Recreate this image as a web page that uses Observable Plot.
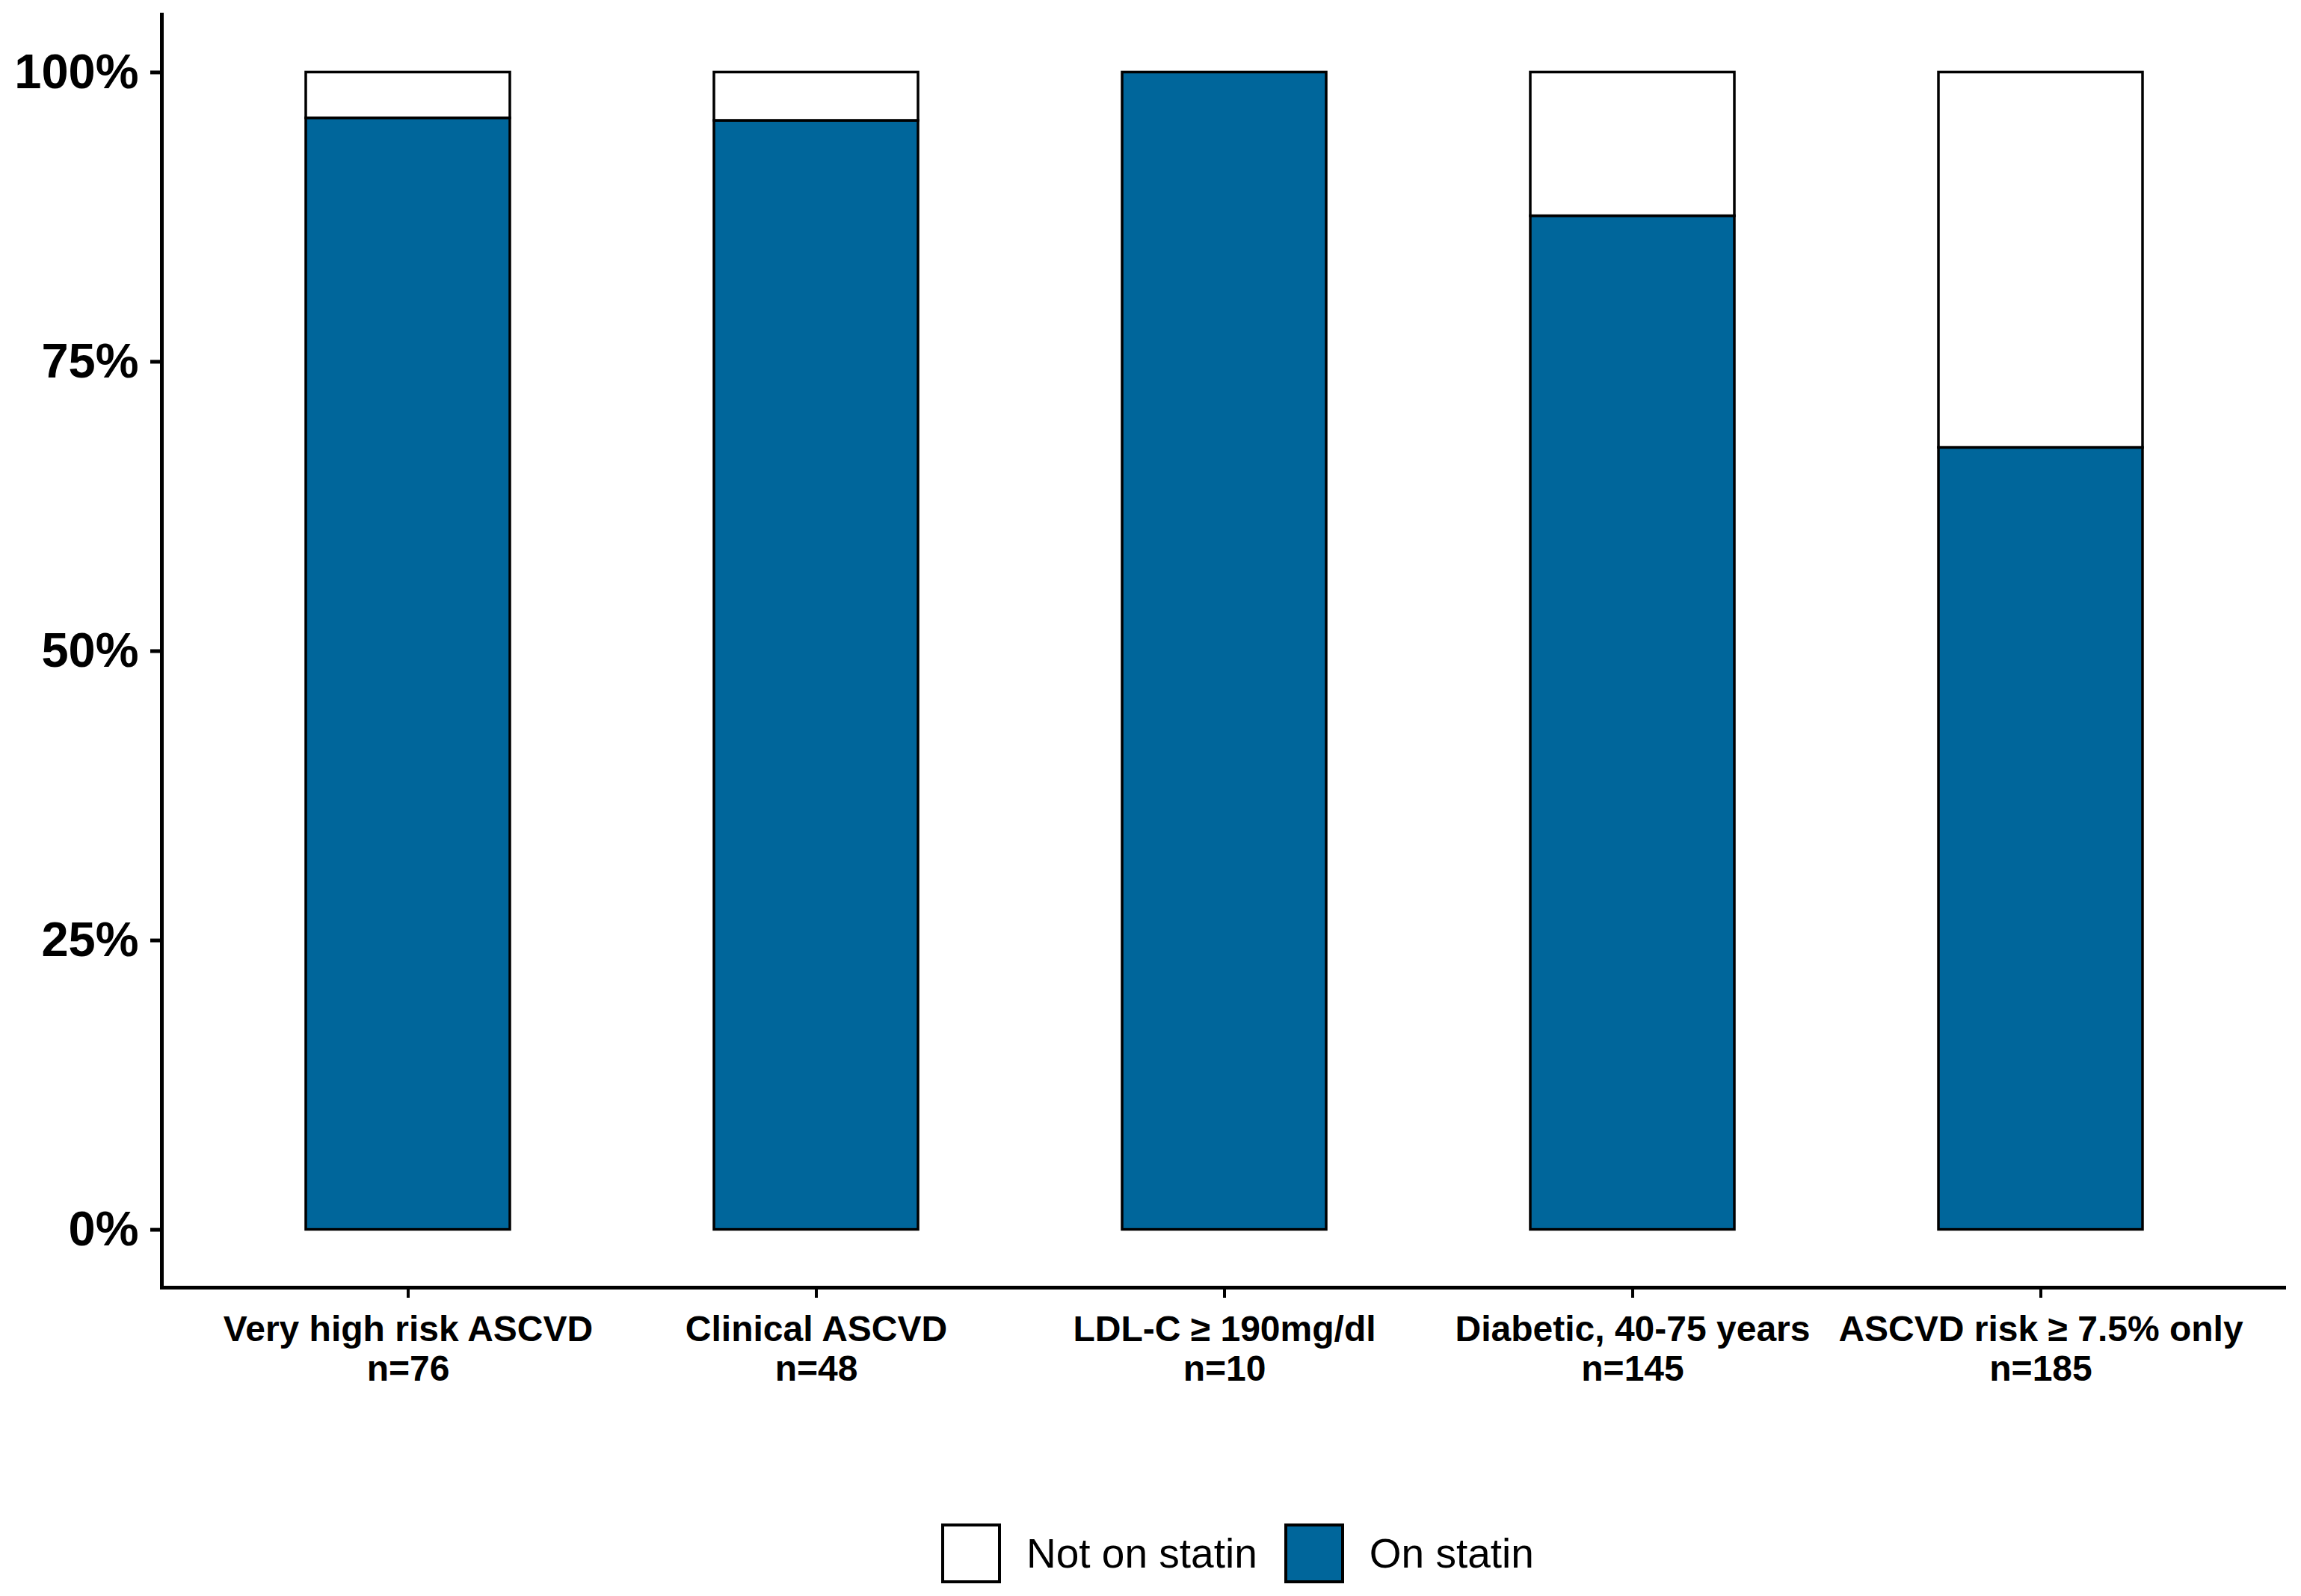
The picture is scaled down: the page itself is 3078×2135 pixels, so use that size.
<!DOCTYPE html>
<html>
<head>
<meta charset="utf-8">
<script src="https://cdn.jsdelivr.net/npm/d3@7"></script>
<script src="https://cdn.jsdelivr.net/npm/@observablehq/plot@0.6"></script>
<style>
  html, body { margin: 0; padding: 0; background: #ffffff; }
  body { font-family: "Liberation Sans", Arial, Helvetica, sans-serif; width: 3078px; }
  #legend { display: flex; justify-content: flex-start; align-items: center; padding-left: 1259px; }
  .sw { width: 80px; height: 80px; box-sizing: border-box; border: 4px solid #000; }
  .lt { font-size: 55px; color: #000; margin-left: 34px; margin-right: 36px; line-height: 80px; }
</style>
</head>
<body>
<div id="chart"></div>
<div id="legend"></div>
<script>
// ---- data ----
const categories = ["Very high risk ASCVD", "Clinical ASCVD", "LDL-C \u2265 190mg/dl", "Diabetic, 40-75 years", "ASCVD risk \u2265 7.5% only"];
const sampleSizes = [76, 48, 10, 145, 185];
const onStatinPct = [96.05, 95.83, 100, 87.59, 67.57];
const notOnStatinPct = [3.95, 4.17, 0, 12.41, 32.43];
const statusLabels = ["Not on statin", "On statin"];
const statusColors = ["#ffffff", "#00669b"];
const yTicks = [0, 25, 50, 75, 100];

// ---- table ----
const xLabels = categories.map((c, i) => `${c}\nn=${sampleSizes[i]}`);
const rows = [];
categories.forEach((c, i) => {
  rows.push({label: xLabels[i], status: "On statin", value: onStatinPct[i]});
  rows.push({label: xLabels[i], status: "Not on statin", value: notOnStatinPct[i]});
});

const W = 3078, H = 1950;
const chart = Plot.plot({
  width: W,
  height: H,
  marginLeft: 216,
  marginRight: 20,
  marginTop: 19,
  marginBottom: H - 1722,
  style: {fontFamily: "'Liberation Sans', Arial, sans-serif", background: "#ffffff", color: "#000"},
  x: {domain: xLabels, paddingInner: 0.5, paddingOuter: 0.35, align: 0.5, label: null},
  y: {domain: [-5, 105], label: null},
  color: {domain: statusLabels, range: statusColors},
  marks: [
    Plot.barY(rows, {x: "label", y: "value", fill: "status", z: "status", order: ["On statin", "Not on statin"], stroke: "#000", strokeWidth: 3.5}),
    Plot.ruleY([-5], {stroke: "#000", strokeWidth: 5}),
    Plot.frame({anchor: "left", stroke: "#000", strokeWidth: 5}),
    Plot.axisY({ticks: yTicks, tickFormat: d => d + "%", tickSize: 15, tickPadding: 16, fontSize: 65, fontWeight: "bold", strokeWidth: 5, label: null}),
    Plot.axisX({tickSize: 14, tickPadding: 20, fontSize: 48, fontWeight: "bold", lineHeight: 1.1, strokeWidth: 4, label: null})
  ]
});
document.getElementById("chart").appendChild(chart);

// ---- legend ----
const legend = document.getElementById("legend");
legend.style.marginTop = (2038 - H) + "px";
statusLabels.forEach((s, i) => {
  const sw = document.createElement("div");
  sw.className = "sw";
  sw.style.background = statusColors[i];
  const t = document.createElement("span");
  t.className = "lt";
  t.textContent = s;
  legend.appendChild(sw);
  legend.appendChild(t);
});
</script>
</body>
</html>
